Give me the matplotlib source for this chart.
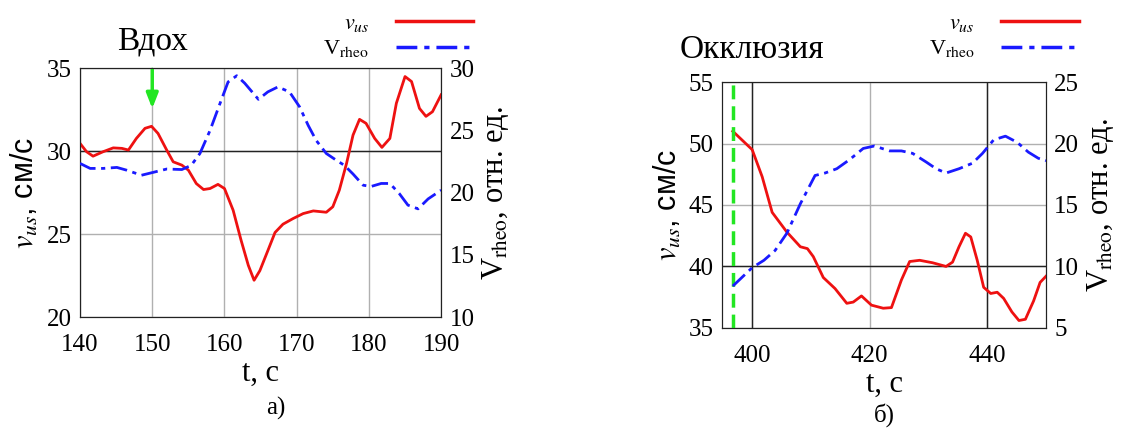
import matplotlib
matplotlib.use("Agg")
import matplotlib.pyplot as plt
from matplotlib.lines import Line2D

plt.rcParams["font.family"] = ["Liberation Serif", "DejaVu Serif"]
plt.rcParams["mathtext.fontset"] = "stix"

# panel a) - breath (Вдох)
t_a_us = [140, 140.9, 141.8, 143.2, 144.6, 145.8, 146.7, 147.8, 149.0, 149.9, 150.8, 152.0,
          152.9, 154.1, 155.0, 156.1, 157.1, 158.0, 159.1, 160.0, 161.2, 162.3, 163.3, 164.1,
          164.9, 166.0, 167.0, 168.1, 169.5, 170.9, 172.3, 174.1, 175.0, 175.9, 176.9, 177.8,
          178.7, 179.6, 180.8, 181.8, 182.9, 183.8, 185.0, 185.9, 187.0, 187.9, 188.8, 190]
v_a_us = [30.47, 29.97, 29.7, 29.97, 30.2, 30.17, 30.07, 30.77, 31.38, 31.5, 31.07, 30.07,
          29.36, 29.16, 28.86, 28.05, 27.69, 27.75, 28.0, 27.75, 26.44, 24.63, 23.12, 22.22,
          22.8, 24.0, 25.1, 25.6, 25.94, 26.24, 26.4, 26.32, 26.65, 27.65, 29.26, 30.97,
          31.92, 31.68, 30.77, 30.23, 30.77, 32.89, 34.5, 34.2, 32.58, 32.1, 32.38, 33.4]
t_a_rheo = [140, 141.4, 143.2, 145.1, 146.5, 148.5, 149.9, 152.0, 154.1, 155.4, 156.6, 158.0,
            159.4, 160.5, 161.7, 162.8, 164.7, 166.0, 167.4, 169.0, 170.4, 171.6, 172.7, 174.1,
            175.5, 176.6, 177.8, 179.2, 180.3, 181.7, 182.9, 184.2, 185.4, 186.8, 188.2, 190]
v_a_rheo = [22.35, 21.95, 21.95, 22.03, 21.8, 21.4, 21.6, 21.9, 21.86, 22.2, 23.15, 25.0,
            27.2, 28.9, 29.4, 28.8, 27.5, 28.1, 28.5, 28.1, 26.9, 25.4, 24.2, 23.15,
            22.6, 22.2, 21.5, 20.6, 20.5, 20.74, 20.74, 19.93, 19.0, 18.7, 19.5, 20.2]

# panel б) - occlusion (Окклюзия)
t_b_us = [396.7, 400, 401.7, 403.4, 405.9, 408.2, 409.4, 410.4, 412.1, 414.1, 416.1, 417.2,
          418.6, 420.3, 422.3, 423.7, 425.4, 426.8, 428.5, 430.7, 433.0, 434.1, 435.2, 436.3,
          437.2, 438.3, 439.4, 440.6, 441.7, 442.8, 444.2, 445.4, 446.5, 447.9, 449.0, 450]
v_b_us = [51.0, 49.5, 47.3, 44.4, 42.8, 41.6, 41.45, 40.8, 39.1, 38.2, 37.0, 37.1,
          37.6, 36.85, 36.6, 36.65, 38.9, 40.4, 40.5, 40.3, 40.0, 40.35, 41.6, 42.7,
          42.4, 40.5, 38.3, 37.8, 37.9, 37.4, 36.3, 35.6, 35.7, 37.2, 38.7, 39.2]
t_b_rheo = [396.7, 400, 402, 403.9, 405.9, 408.2, 410.7, 412.4, 414.4, 416.6, 418.9, 420.8,
            423.4, 425.4, 427.3, 429.6, 431.3, 433.0, 435.2, 437.5, 439.2, 441.1, 443.1, 445.1,
            447.0, 448.7, 450]
v_b_rheo = [8.4, 9.9, 10.5, 11.3, 12.7, 15.1, 17.4, 17.6, 17.95, 18.7, 19.6, 19.8,
            19.4, 19.4, 19.2, 18.5, 17.95, 17.6, 17.95, 18.4, 19.2, 20.3, 20.6, 20.1,
            19.3, 18.8, 18.6]

occlusion_t = 396.7
breath_t = 150

red = "#ee1111"
blue = "#1a1aff"
green = "#22e622"
rheo_dash = (6, 2, 1.5, 2)

fig = plt.figure(figsize=(11.32, 4.32), dpi=100)
ax1 = fig.add_axes([0.0707, 0.266, 0.319, 0.576])
ax2 = fig.add_axes([0.638, 0.241, 0.286, 0.569])


def setup(ax, xlim, ylim, yticks, xticks, ylim2, yticks2, dark_x, dark_y):
    ax.set_xlim(*xlim)
    ax.set_ylim(*ylim)
    ax.set_xticks(xticks)
    ax.set_yticks(yticks)
    ax.grid(True, color="#b0b0b0", lw=1)
    for x in dark_x:
        ax.axvline(x, color="#222222", lw=1, zorder=2)
    for y in dark_y:
        ax.axhline(y, color="#222222", lw=1, zorder=2)
    ax.tick_params(length=0, labelsize=18)
    ax.tick_params(axis="x", pad=12)
    ax.tick_params(axis="y", pad=6)
    axr = ax.twinx()
    axr.set_ylim(*ylim2)
    axr.set_yticks(yticks2)
    axr.tick_params(length=0, labelsize=18, pad=6)
    for a in (ax, axr):
        for s in a.spines.values():
            s.set_color("#222222")
    ax.set_xlabel("t, c", fontsize=22, labelpad=2)
    ax.set_ylabel(r"$v_{us}$, см/с", fontsize=22, family=["Liberation Sans"], labelpad=4)
    axr.set_ylabel(r"V$_{\mathrm{rheo}}$, отн. ед.", fontsize=22, labelpad=4)
    return axr


ax1r = setup(ax1, (140, 190), (20, 35), [20, 25, 30, 35], [140, 150, 160, 170, 180, 190],
             (10, 30), [10, 15, 20, 25, 30], [], [30])
ax1.plot(t_a_us, v_a_us, color=red, lw=2, zorder=3)
ax1r.plot(t_a_rheo, v_a_rheo, color=blue, lw=2, dashes=rheo_dash, zorder=3)
ax1.annotate("", xy=(breath_t, 32.4), xytext=(breath_t, 35.1),
             arrowprops=dict(arrowstyle="-|>,head_width=0.35,head_length=0.9",
                             color=green, lw=2.5), annotation_clip=False)
fig.text(0.103, 0.885, "Вдох", fontsize=24)
fig.text(0.235, 0.04, "а)", fontsize=18)

ax2r = setup(ax2, (394.9, 450), (35, 55), [35, 40, 45, 50, 55], [400, 420, 440],
             (5, 25), [5, 10, 15, 20, 25], [400, 440], [40])
ax2.plot(t_b_us, v_b_us, color=red, lw=2, zorder=3)
ax2r.plot(t_b_rheo, v_b_rheo, color=blue, lw=2, dashes=rheo_dash, zorder=3)
ax2.axvline(occlusion_t, color=green, lw=2.5, ls=(0, (4, 2)), zorder=4)
fig.text(0.6, 0.865, "Окклюзия", fontsize=24)
fig.text(0.772, 0.025, "б)", fontsize=18)

handles = [Line2D([], [], color=red, lw=2.5),
           Line2D([], [], color=blue, lw=2.5, dashes=rheo_dash)]
labels = [r"$v_{us}$", r"V$_{\mathrm{rheo}}$"]
for ax, x in ((ax1, 0.43), (ax2, 0.965)):
    fig.legend(handles, labels, loc="upper right", bbox_to_anchor=(x, 1.0),
               frameon=False, markerfirst=False, fontsize=16, handlelength=3.5,
               handletextpad=1.2, labelspacing=0.2, borderaxespad=0.2)

fig.savefig("out.png", dpi=100)
